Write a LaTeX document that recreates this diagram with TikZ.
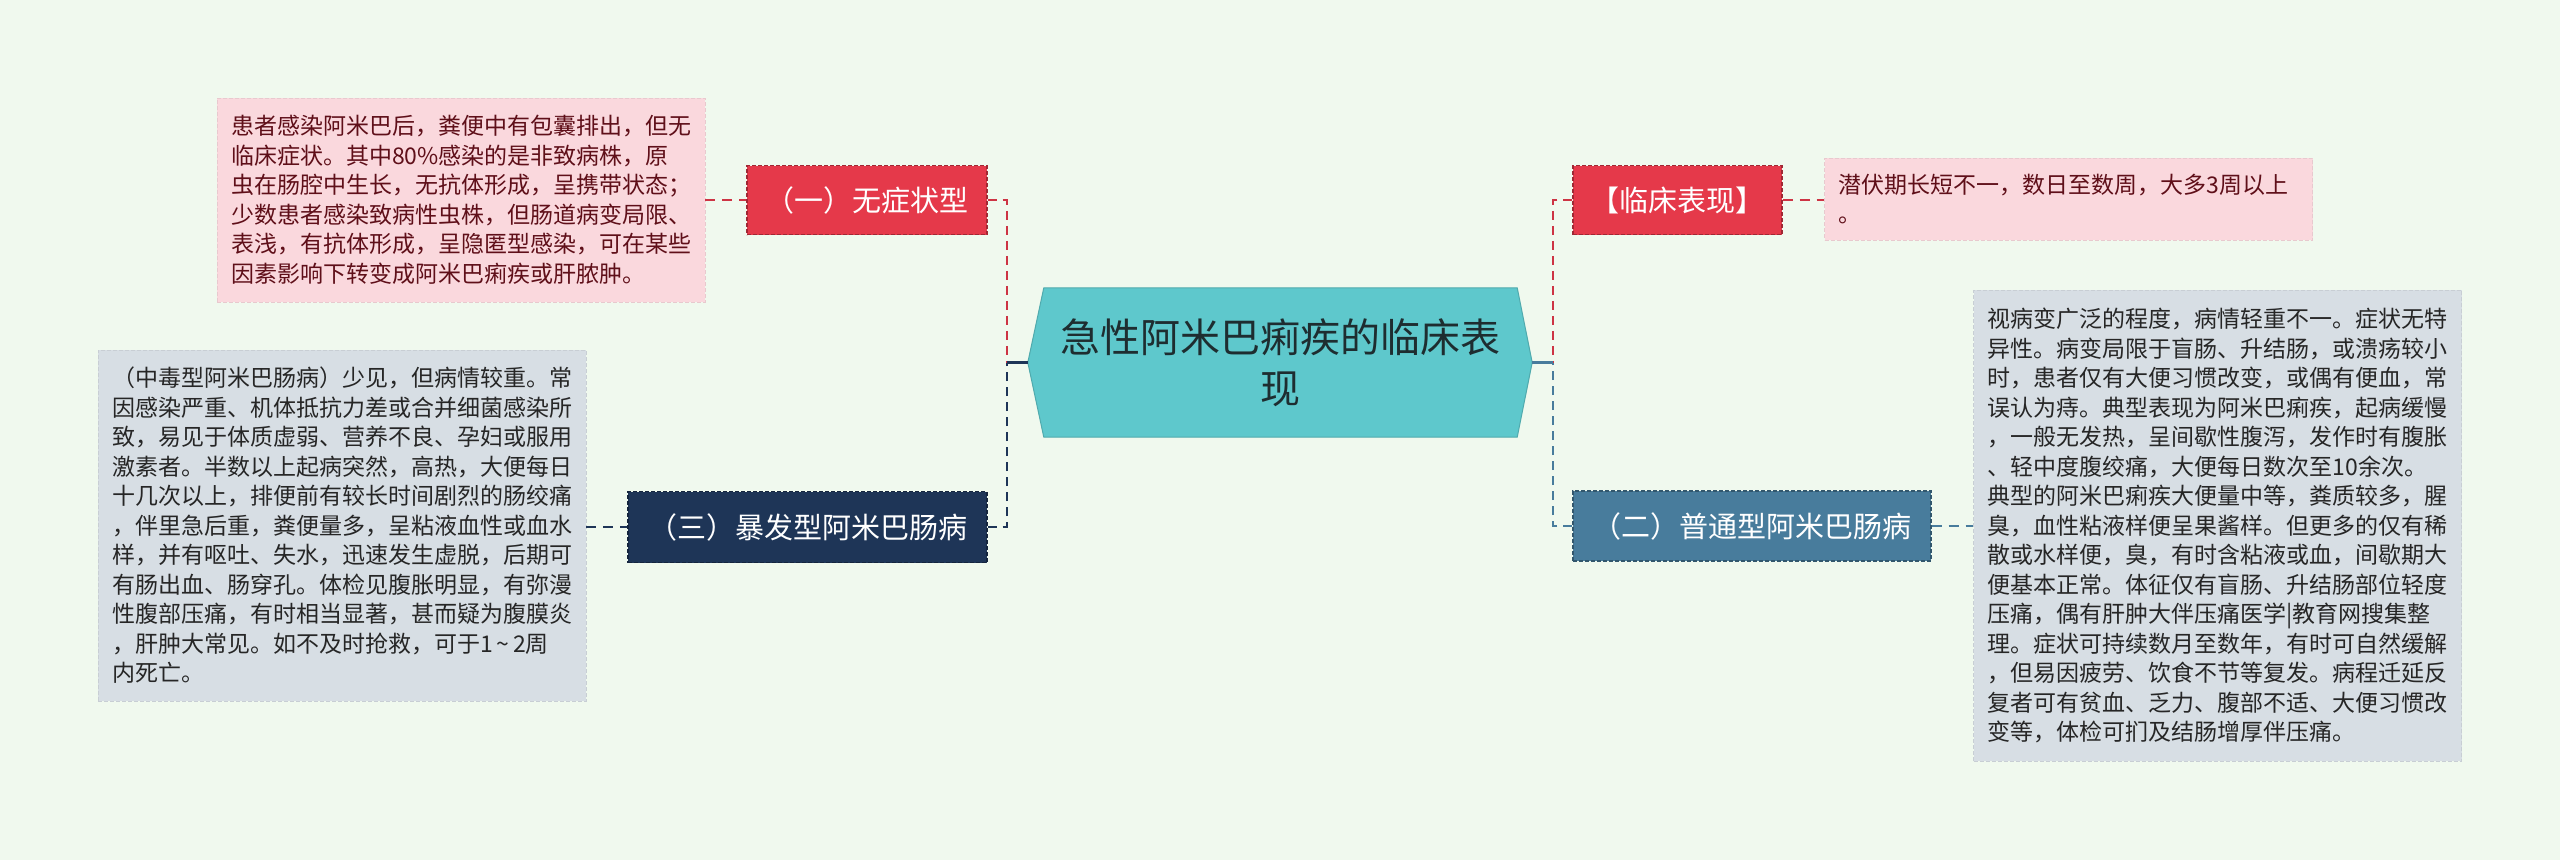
\documentclass[tikz,border=0pt]{standalone}
\usepackage{fontspec}
\setmainfont{Noto Sans CJK SC}
\usepackage{tikz}
\usetikzlibrary{calc,backgrounds}

\definecolor{bgmint}{RGB}{240,249,238}
\definecolor{redbr}{RGB}{229,57,74}
\definecolor{redline}{RGB}{205,52,68}
\definecolor{pinkleaf}{RGB}{250,216,221}
\definecolor{pinktext}{RGB}{95,15,25}
\definecolor{navybr}{RGB}{30,53,87}
\definecolor{bluebr}{RGB}{72,124,156}
\definecolor{greyleaf}{RGB}{215,222,228}
\definecolor{tealhex}{RGB}{94,200,204}
\definecolor{titletext}{RGB}{30,45,48}

\tikzset{
  branch/.style={draw=#1!70!black, fill=#1, dash pattern=on 4pt off 2pt, line width=1.2pt,
    text=white, inner sep=0pt, minimum height=69, font=\fontsize{29}{35}\selectfont},
  leaf/.style={fill=#1, draw=#1!93!black, dash pattern=on 4pt off 2pt, line width=0.8pt,
    text width=460, inner xsep=14, inner ysep=0, align=left, font=\fontsize{23}{29.5}\selectfont},
  trunk/.style={line width=2.5pt, dash pattern=on 9pt off 6pt},
  twig/.style={line width=2pt, dash pattern=on 10pt off 7pt}
}

\begin{document}
\begin{tikzpicture}[x=1pt,y=-1pt]
\useasboundingbox (0,0) rectangle (2560,860);
\begin{scope}[on background layer]
\fill[bgmint] (0,0) rectangle (2560,860);
\end{scope}

\node[minimum width=504, minimum height=149, inner sep=0pt, text=titletext, align=center,
  font=\fontsize{40}{51}\selectfont] (title) at (1280,362.5) {急性阿米巴痢疾的临床表\\现};
\begin{scope}[on background layer]
\filldraw[fill=tealhex, draw=tealhex!85!black, line width=1pt] (title.west)
  -- ($(title.north west)+(16,0)$) -- ($(title.north east)+(-15,0)$) -- (title.east)
  -- ($(title.south east)+(-15,0)$) -- ($(title.south west)+(16,0)$) -- cycle;
\end{scope}

\node[branch=redbr, minimum width=240] (wuzheng) at (867,200) {（一）无症状型};
\node[branch=navybr, minimum width=359, minimum height=71] (baofa) at (807.5,527) {（三）暴发型阿米巴肠病};
\node[branch=redbr, minimum width=209] (linchuang) at (1677.5,200) {【临床表现】};
\node[branch=bluebr, minimum width=358, minimum height=70] (putong) at (1752,526) {（二）普通型阿米巴肠病};

\node[leaf=pinkleaf, text=pinktext, minimum height=204] (wuzhengtxt) at (461,200) {患者感染阿米巴后，粪便中有包囊排出，但无\\
临床症状。其中80\%感染的是非致病株，原\\
虫在肠腔中生长，无抗体形成，呈携带状态；\\
少数患者感染致病性虫株，但肠道病变局限、\\
表浅，有抗体形成，呈隐匿型感染，可在某些\\
因素影响下转变成阿米巴痢疾或肝脓肿。};

\node[leaf=greyleaf, text=black!85, minimum height=351] (baofatxt) at (342,525.5) {（中毒型阿米巴肠病）少见，但病情较重。常\\
因感染严重、机体抵抗力差或合并细菌感染所\\
致，易见于体质虚弱、营养不良、孕妇或服用\\
激素者。半数以上起病突然，高热，大便每日\\
十几次以上，排便前有较长时间剧烈的肠绞痛\\
，伴里急后重，粪便量多，呈粘液血性或血水\\
样，并有呕吐、失水，迅速发生虚脱，后期可\\
有肠出血、肠穿孔。体检见腹胀明显，有弥漫\\
性腹部压痛，有时相当显著，甚而疑为腹膜炎\\
，肝肿大常见。如不及时抢救，可于1\,\textasciitilde\,2周\\
内死亡。};

\node[leaf=pinkleaf, text=pinktext, minimum height=82] (linchuangtxt) at (2068.5,199) {潜伏期长短不一，数日至数周，大多3周以上\\
。};

\node[leaf=greyleaf, text=black!85, minimum height=471] (putongtxt) at (2217.5,525.5) {视病变广泛的程度，病情轻重不一。症状无特\\
异性。病变局限于盲肠、升结肠，或溃疡较小\\
时，患者仅有大便习惯改变，或偶有便血，常\\
误认为痔。典型表现为阿米巴痢疾，起病缓慢\\
，一般无发热，呈间歇性腹泻，发作时有腹胀\\
、轻中度腹绞痛，大便每日数次至10余次。\\
典型的阿米巴痢疾大便量中等，粪质较多，腥\\
臭，血性粘液样便呈果酱样。但更多的仅有稀\\
散或水样便，臭，有时含粘液或血，间歇期大\\
便基本正常。体征仅有盲肠、升结肠部位轻度\\
压痛，偶有肝肿大伴压痛医学|教育网搜集整\\
理。症状可持续数月至数年，有时可自然缓解\\
，但易因疲劳、饮食不节等复发。病程迁延反\\
复者可有贫血、乏力、腹部不适、大便习惯改\\
变等，体检可扪及结肠增厚伴压痛。};

\coordinate (jl) at ($(title.west)+(-21,0)$);
\coordinate (jr) at ($(title.east)+(21,0)$);
\draw[trunk, redline] (wuzheng.east) -| (jl);
\draw[trunk, navybr] (baofa.east) -| (jl);
\draw[navybr, line width=2.5pt] (jl) -- (title.west);
\draw[trunk, redline] (linchuang.west) -| (jr);
\draw[trunk, bluebr] (putong.west) -| (jr);
\draw[bluebr, line width=2.5pt] (jr) -- (title.east);

\draw[twig, redline] (wuzhengtxt.east) -- (wuzheng.west);
\draw[twig, navybr] (baofatxt.east |- baofa.west) -- (baofa.west);
\draw[twig, redline] (linchuang.east) -- (linchuangtxt.west |- linchuang.east);
\draw[twig, bluebr] (putong.east) -- (putongtxt.west |- putong.east);
\end{tikzpicture}
\end{document}
